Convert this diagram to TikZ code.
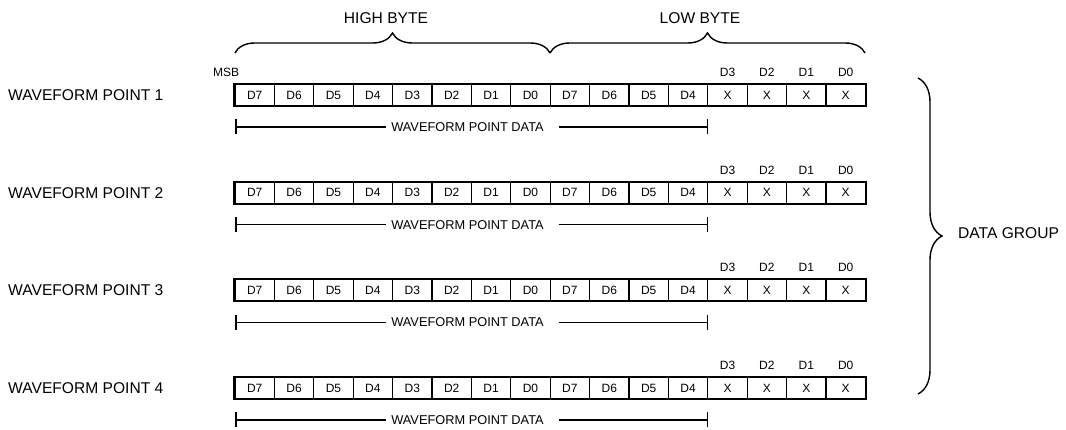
\documentclass[tikz,border=0pt]{standalone}
\usepackage{fontspec}
\setmainfont{Liberation Sans}
\usetikzlibrary{arrows.meta,positioning,decorations.pathreplacing}
\newcommand{\bigfont}{\fontsize{15.6}{18}\selectfont}
\newcommand{\datafont}{\fontsize{12.8}{15}\selectfont}
\newcommand{\bitfont}{\fontsize{12}{14}\selectfont}
\tikzset{
  cell/.style={draw, line width=1.3pt, minimum width=39.4pt, minimum height=21pt, inner sep=0pt, font=\bitfont},
  bitlabel/.style={font=\bitfont, inner sep=0pt, text height=8.6pt, text depth=0pt},
  rowlabel/.style={anchor=west, font=\bigfont, inner sep=0pt},
  grouplabel/.style={font=\bigfont, inner sep=0pt},
  datalabel/.style={font=\datafont, inner sep=0pt},
  bracket/.style={decorate, line width=1.4pt, decoration={brace, amplitude=#1}},
  span/.style={line width=1.5pt},
}
\begin{document}
\begin{tikzpicture}[x=1pt, y=1pt]
\useasboundingbox (0,0) rectangle (1066,430);

% one row per waveform point
\foreach \r/\y in {1/335, 2/237.3, 3/139.7, 4/42}{
  \node[rowlabel] (row\r) at (8,\y) {WAVEFORM POINT \r};
  \foreach [count=\i] \b in {D7,D6,D5,D4,D3,D2,D1,D0,D7,D6,D5,D4,X,X,X,X}{
    \node[cell] (c\r-\i) at ({235+39.4*(\i-0.5)},\y) {\b};
  }
  \draw[line width=2pt] (c\r-1.north west) rectangle (c\r-16.south east);
  \foreach \i/\b in {13/D3,14/D2,15/D1,16/D0}{
    \node[bitlabel, above=7pt of c\r-\i] (t\r-\i) {\b};
  }
  % data span
  \coordinate (dl\r) at (235,{\y-32});
  \coordinate (dr\r) at (708,{\y-32});
  \node[datalabel] (dt\r) at (467.5,{\y-32}) {WAVEFORM POINT DATA};
  \draw[span, {Bar[width=15pt]}-] (dl\r) -- ([xshift=-5pt]dt\r.west);
  \draw[span, -{Bar[width=15pt]}] ([xshift=15pt]dt\r.east) -- (dr\r);
}

\node[bitlabel, anchor=south east] (msb) at ([xshift=5pt,yshift=7pt]c1-1.north west) {MSB};

% byte braces
\coordinate (hl) at (235,377);
\coordinate (hm) at (550,377);
\coordinate (lr) at (865,377);
\draw[bracket=20pt] (hl) -- (hm);
\draw[bracket=20pt] (hm) -- (lr);
\node[grouplabel] (hb) at (386,412) {HIGH BYTE};
\node[grouplabel] (lb) at (700,412) {LOW BYTE};

% group brace
\coordinate (gt) at (918,352);
\coordinate (gb) at (918,36);
\draw[bracket=24pt] (gt) -- (gb);
\node[grouplabel, anchor=west] (grp) at (958,197) {DATA GROUP};
\end{tikzpicture}
\end{document}
